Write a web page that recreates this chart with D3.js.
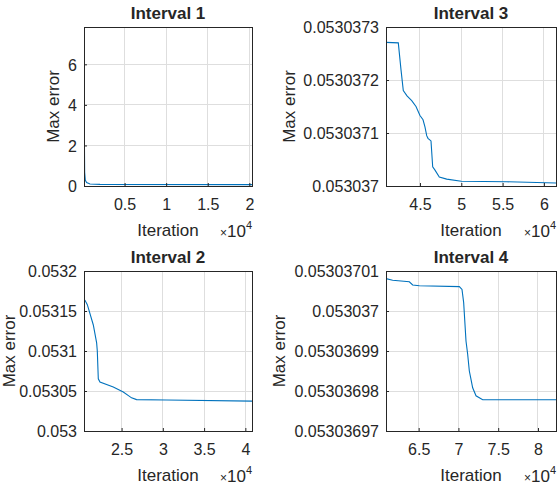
<!DOCTYPE html>
<html>
<head>
<meta charset="utf-8">
<script src="https://cdn.jsdelivr.net/npm/d3@7/dist/d3.min.js"></script>
<style>
  html, body { margin: 0; padding: 0; background: #fff; }
  svg { display: block; }
  text { font-family: "Liberation Sans", Arial, Helvetica, sans-serif; fill: #262626; }
</style>
</head>
<body>
<svg id="chart" width="560" height="486"></svg>
<script>
// ---- Data ----
const titles = ["Interval 1", "Interval 2", "Interval 3", "Interval 4"];
const xLabel = "Iteration";
const yLabel = "Max error";

// Interval 1
const iter1 = [120, 160, 200, 280, 440, 840, 2040, 20320];
const err1  = [7.84, 2.6, 0.68, 0.28, 0.17, 0.10, 0.08, 0.07];
const xDomain1 = [120, 20320];
const yDomain1 = [0, 7.84];
const xTicks1 = [5000, 10000, 15000, 20000];
const xTickLabels1 = ["0.5", "1", "1.5", "2"];
const yTicks1 = [0, 2, 4, 6];
const yTickLabels1 = ["0", "2", "4", "6"];

// Interval 2
const iter2 = [20444, 20565, 20847, 21573, 21976, 22056, 22177, 22379, 23992, 25202, 26210, 26815, 30444, 40806];
const err2  = [0.0531640, 0.0531633, 0.0531579, 0.0531325, 0.0531102, 0.0531000, 0.0530652, 0.0530611, 0.0530549, 0.0530488, 0.0530414, 0.0530392, 0.0530388, 0.0530373];
const xDomain2 = [20444, 40806];
const yDomain2 = [0.053, 0.0532];
const xTicks2 = [25000, 30000, 35000, 40000];
const xTickLabels2 = ["2.5", "3", "3.5", "4"];
const yTicks2 = [0.053, 0.05305, 0.0531, 0.05315, 0.0532];
const yTickLabels2 = ["0.053", "0.05305", "0.0531", "0.05315", "0.0532"];

// Interval 3
const iter3 = [40890, 42378, 42700, 42983, 43430, 44000, 44520, 45000, 45370, 45610, 45815, 45970, 46335, 46540, 46820, 47340, 48235, 50000, 55500, 61460];
const err3  = [0.053037271, 0.053037270, 0.053037220, 0.053037180, 0.053037170, 0.053037161, 0.053037150, 0.053037133, 0.053037125, 0.053037111, 0.053037095, 0.053037090, 0.053037085, 0.053037036, 0.053037030, 0.053037017, 0.053037013, 0.053037009, 0.053037008, 0.0530370058];
const xDomain3 = [40890, 61460];
const yDomain3 = [0.053037, 0.0530373];
const xTicks3 = [45000, 50000, 55000, 60000];
const xTickLabels3 = ["4.5", "5", "5.5", "6"];
const yTicks3 = [0.053037, 0.0530371, 0.0530372, 0.0530373];
const yTickLabels3 = ["0.053037", "0.0530371", "0.0530372", "0.0530373"];

// Interval 4
const iter4 = [60893, 61731, 63826, 64246, 65084, 70113, 70448, 70658, 70951, 71161, 71370, 71580, 71790, 72209, 73047, 82267];
const err4  = [0.0530370081, 0.0530370077, 0.0530370073, 0.0530370065, 0.0530370063, 0.0530370061, 0.0530370054, 0.0530370021, 0.0530369925, 0.0530369892, 0.0530369850, 0.0530369829, 0.0530369808, 0.0530369788, 0.0530369778, 0.0530369778];
const xDomain4 = [60893, 82267];
const yDomain4 = [0.05303697, 0.05303701];
const xTicks4 = [65000, 70000, 75000, 80000];
const xTickLabels4 = ["6.5", "7", "7.5", "8"];
const yTicks4 = [0.05303697, 0.05303698, 0.05303699, 0.053037, 0.05303701];
const yTickLabels4 = ["0.05303697", "0.05303698", "0.05303699", "0.053037", "0.05303701"];

// ---- Layout ----
const panels = [
  { title: titles[0], iter: iter1, err: err1, xd: xDomain1, yd: yDomain1, xt: xTicks1, xtl: xTickLabels1, yt: yTicks1, ytl: yTickLabels1,
    box: { x0: 84, x1: 252, y0: 27, y1: 186 }, ylabX: 59 },
  { title: titles[1], iter: iter2, err: err2, xd: xDomain2, yd: yDomain2, xt: xTicks2, xtl: xTickLabels2, yt: yTicks2, ytl: yTickLabels2,
    box: { x0: 84, x1: 252, y0: 271, y1: 431 }, ylabX: 15 },
  { title: titles[2], iter: iter3, err: err3, xd: xDomain3, yd: yDomain3, xt: xTicks3, xtl: xTickLabels3, yt: yTicks3, ytl: yTickLabels3,
    box: { x0: 386, x1: 556, y0: 27, y1: 186 }, ylabX: 295 },
  { title: titles[3], iter: iter4, err: err4, xd: xDomain4, yd: yDomain4, xt: xTicks4, xtl: xTickLabels4, yt: yTicks4, ytl: yTickLabels4,
    box: { x0: 386, x1: 556, y0: 271, y1: 431 }, ylabX: 285 }
];

const svg = d3.select("#chart");
const lineColor = "#0072bd";
const gridColor = "#dedede";
const axisColor = "#262626";

panels.forEach((p, i) => {
  const b = p.box;
  const x = d3.scaleLinear().domain(p.xd).range([b.x0, b.x1]);
  const y = d3.scaleLinear().domain(p.yd).range([b.y1, b.y0]);
  const g = svg.append("g");

  // grid
  g.append("g").selectAll("line.gx").data(p.xt).join("line")
    .attr("x1", d => x(d)).attr("x2", d => x(d))
    .attr("y1", b.y0).attr("y2", b.y1)
    .attr("stroke", gridColor).attr("stroke-width", 1).attr("shape-rendering", "crispEdges");
  g.append("g").selectAll("line.gy").data(p.yt).join("line")
    .attr("x1", b.x0).attr("x2", b.x1)
    .attr("y1", d => y(d)).attr("y2", d => y(d))
    .attr("stroke", gridColor).attr("stroke-width", 1).attr("shape-rendering", "crispEdges");

  // clip
  const cid = "clip" + i;
  g.append("clipPath").attr("id", cid).append("rect")
    .attr("x", b.x0).attr("y", b.y0).attr("width", b.x1 - b.x0).attr("height", b.y1 - b.y0);

  // data line
  const pts = p.iter.map((v, k) => [v, p.err[k]]);
  g.append("path").datum(pts)
    .attr("clip-path", `url(#${cid})`)
    .attr("fill", "none").attr("stroke", lineColor).attr("stroke-width", 1.1)
    .attr("d", d3.line().x(d => x(d[0])).y(d => y(d[1])));

  // axes box
  g.append("rect").attr("x", b.x0).attr("y", b.y0)
    .attr("width", b.x1 - b.x0).attr("height", b.y1 - b.y0)
    .attr("fill", "none").attr("stroke", axisColor).attr("stroke-width", 1)
    .attr("shape-rendering", "crispEdges");

  // x axis ticks (inward) and labels
  const xAxis = d3.axisBottom(x).tickValues(p.xt).tickSizeInner(-3).tickSizeOuter(0)
    .tickFormat((d, k) => p.xtl[k]);
  const gx = g.append("g").attr("transform", `translate(0,${b.y1})`).call(xAxis);
  gx.select(".domain").remove();
  gx.selectAll(".tick line").attr("stroke", axisColor);
  gx.selectAll(".tick text").attr("y", 24).attr("dy", 0)
    .attr("font-size", 16).attr("fill", axisColor)
    .style("font-family", '"Liberation Sans", Arial, sans-serif');

  // y axis ticks and labels
  const yAxis = d3.axisLeft(y).tickValues(p.yt).tickSizeInner(-3).tickSizeOuter(0)
    .tickFormat((d, k) => p.ytl[k]);
  const gy = g.append("g").attr("transform", `translate(${b.x0},0)`).call(yAxis);
  gy.select(".domain").remove();
  gy.selectAll(".tick line").attr("stroke", axisColor);
  gy.selectAll(".tick text").attr("x", -7).attr("dy", "0.36em")
    .attr("font-size", 16).attr("fill", axisColor)
    .style("font-family", '"Liberation Sans", Arial, sans-serif');

  // title
  g.append("text").attr("x", (b.x0 + b.x1) / 2).attr("y", b.y0 - 8.5)
    .attr("text-anchor", "middle").attr("font-size", 17).attr("font-weight", "bold")
    .text(p.title);

  // x label
  g.append("text").attr("x", (b.x0 + b.x1) / 2).attr("y", b.y1 + 50)
    .attr("text-anchor", "middle").attr("font-size", 17)
    .text(xLabel);

  // exponent label x10^4
  const ex = g.append("text").attr("x", b.x1).attr("y", b.y1 + 51)
    .attr("text-anchor", "end");
  ex.append("tspan").attr("font-size", 12).text("\u00d7");
  ex.append("tspan").attr("font-size", 17).text("10");
  ex.append("tspan").attr("font-size", 11).attr("dy", -8).text("4");

  // y label
  g.append("text")
    .attr("transform", `translate(${p.ylabX},${(b.y0 + b.y1) / 2}) rotate(-90)`)
    .attr("text-anchor", "middle").attr("font-size", 17)
    .text(yLabel);
});
</script>
</body>
</html>
